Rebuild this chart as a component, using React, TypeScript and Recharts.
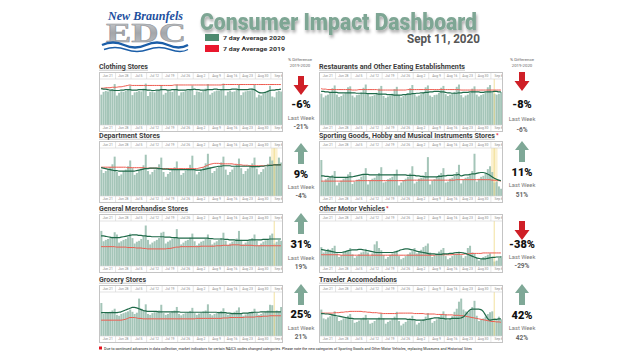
import React from 'react';
import { ComposedChart, Bar, Line, XAxis, YAxis, ReferenceLine, ReferenceArea } from 'recharts';

// week start labels, 82 daily points from Jun 21 to Sep 10
const weekLabels = ['Jun 21', 'Jun 28', 'Jul 5', 'Jul 12', 'Jul 19', 'Jul 26', 'Aug 2', 'Aug 9', 'Aug 16', 'Aug 23', 'Aug 30', 'Sep 6'];
const LABOR_DAY = 78;

// Clothing Stores
const clothingBars = [
  66, 72, 74, 73, 75, 78, 89,
  64, 70, 73, 72, 74, 77, 86,
  65, 71, 72, 74, 73, 79, 90,
  63, 72, 73, 71, 75, 76, 87,
  66, 70, 74, 73, 72, 78, 88,
  64, 71, 72, 74, 75, 77, 86,
  65, 73, 72, 71, 74, 79, 89,
  66, 70, 73, 75, 74, 78, 90,
  64, 72, 74, 72, 73, 77, 87,
  65, 71, 73, 74, 75, 79, 88,
  60, 66, 64, 68, 70, 74, 85,
  62, 60, 72, 74, 73,
];
const clothing2020 = [
  79, 78, 78, 77, 76, 76, 75,
  75, 75, 76, 76, 77, 77, 77,
  76, 76, 76, 77, 77, 77, 77,
  76, 76, 75, 75, 76, 76, 77,
  77, 77, 76, 76, 77, 77, 77,
  76, 76, 76, 76, 77, 77, 77,
  78, 77, 77, 76, 76, 76, 77,
  77, 77, 78, 78, 77, 77, 77,
  77, 77, 77, 78, 78, 78, 77,
  77, 77, 77, 77, 78, 78, 77,
  74, 71, 70, 70, 71, 73, 75,
  76, 76, 77, 77, 78,
];
const clothing2019 = [
  80, 80, 81, 81, 81, 82, 82,
  82, 83, 83, 84, 85, 86, 87,
  86, 86, 86, 86, 86, 86, 86,
  86, 86, 86, 86, 86, 86, 86,
  86, 86, 86, 86, 86, 87, 87,
  87, 87, 87, 87, 87, 87, 87,
  87, 87, 87, 87, 87, 87, 87,
  87, 87, 87, 87, 87, 87, 88,
  88, 88, 88, 88, 88, 88, 88,
  88, 88, 88, 88, 88, 88, 88,
  88, 88, 88, 88, 88, 88, 88,
  88, 88, 88, 88, 88,
];

// Restaurants and Other Eating Establishments
const restaurantBars = [
  68, 60, 64, 66, 70, 80, 86,
  66, 61, 63, 67, 69, 82, 84,
  64, 60, 65, 66, 71, 81, 88,
  67, 62, 63, 65, 70, 79, 85,
  63, 59, 62, 64, 68, 78, 83,
  65, 60, 63, 66, 69, 80, 87,
  66, 62, 64, 67, 71, 82, 86,
  64, 61, 65, 66, 70, 81, 85,
  67, 63, 66, 68, 72, 83, 88,
  65, 60, 64, 66, 70, 79, 84,
  66, 62, 65, 67, 71, 82, 87,
  70, 68, 66, 68, 72,
];
const restaurant2020 = [
  73, 73, 72, 72, 71, 71, 71,
  71, 70, 70, 70, 70, 70, 70,
  70, 70, 69, 69, 69, 69, 69,
  68, 68, 68, 68, 68, 67, 67,
  67, 67, 66, 66, 66, 65, 65,
  65, 65, 66, 66, 67, 67, 68,
  68, 69, 69, 70, 70, 71, 71,
  72, 72, 73, 73, 73, 72, 72,
  71, 70, 70, 69, 69, 69, 70,
  70, 71, 71, 71, 72, 72, 72,
  72, 72, 71, 71, 72, 72, 72,
  72, 73, 73, 72, 72,
];
const restaurant2019 = [
  79, 78, 78, 77, 77, 77, 77,
  77, 77, 77, 77, 77, 77, 77,
  76, 76, 76, 77, 77, 77, 77,
  77, 77, 77, 77, 77, 76, 76,
  76, 76, 76, 76, 76, 76, 76,
  76, 76, 76, 76, 77, 77, 77,
  77, 77, 77, 77, 77, 77, 77,
  77, 77, 77, 77, 77, 77, 77,
  77, 77, 77, 77, 77, 77, 77,
  76, 76, 76, 76, 76, 76, 76,
  76, 76, 76, 76, 76, 76, 76,
  76, 76, 76, 76, 76,
];

// Department Stores
const departmentBars = [
  55, 48, 52, 56, 60, 66, 82,
  50, 42, 45, 52, 55, 62, 74,
  58, 44, 48, 54, 57, 64, 86,
  52, 45, 50, 55, 58, 66, 80,
  50, 40, 46, 50, 56, 60, 72,
  54, 44, 48, 53, 58, 65, 84,
  56, 45, 50, 56, 60, 68, 88,
  60, 48, 52, 58, 62, 70, 82,
  55, 44, 50, 55, 60, 66, 78,
  58, 46, 52, 57, 62, 68, 80,
  57, 45, 50, 56, 60, 67, 82,
  74, 62, 66, 80, 70,
];
const department2020 = [
  59, 58, 57, 56, 55, 54, 53,
  53, 52, 52, 52, 52, 52, 52,
  52, 52, 53, 54, 55, 56, 57,
  57, 58, 58, 58, 58, 57, 57,
  56, 56, 56, 55, 55, 55, 55,
  55, 55, 55, 55, 55, 55, 55,
  55, 54, 54, 54, 55, 56, 57,
  58, 59, 60, 61, 62, 62, 63,
  63, 63, 63, 62, 62, 62, 62,
  62, 62, 62, 62, 62, 61, 61,
  61, 61, 62, 62, 63, 63, 64,
  64, 65, 65, 65, 65,
];
const department2019 = [
  60, 60, 60, 60, 60, 60, 60,
  60, 60, 60, 60, 60, 59, 59,
  59, 59, 59, 59, 59, 59, 58,
  58, 58, 58, 58, 58, 58, 57,
  57, 57, 57, 57, 57, 57, 57,
  57, 57, 57, 57, 57, 57, 57,
  57, 57, 58, 59, 60, 62, 64,
  66, 67, 68, 68, 68, 67, 67,
  67, 67, 67, 67, 66, 66, 65,
  65, 64, 64, 64, 63, 63, 63,
  63, 63, 63, 63, 63, 64, 64,
  64, 65, 65, 65, 65,
];

// Sporting Goods, Hobby and Musical Instruments Stores
const sportingBars = [
  75, 30, 35, 38, 40, 44, 52,
  22, 28, 32, 36, 38, 45, 50,
  25, 30, 34, 35, 40, 46, 58,
  24, 32, 36, 38, 42, 48, 60,
  28, 30, 35, 37, 40, 46, 55,
  22, 28, 33, 36, 40, 47, 62,
  26, 30, 36, 38, 42, 50, 81,
  24, 32, 35, 40, 44, 48, 58,
  28, 30, 36, 38, 42, 50, 65,
  26, 34, 38, 40, 45, 52, 88,
  30, 36, 40, 42, 48, 56, 62,
  50, 28, 30, 20, 15,
];
const sporting2020 = [
  42, 42, 41, 41, 40, 40, 39,
  39, 39, 39, 39, 39, 39, 40,
  40, 41, 42, 43, 44, 45, 45,
  45, 44, 44, 44, 44, 44, 44,
  44, 44, 44, 44, 44, 44, 44,
  44, 44, 44, 44, 43, 43, 43,
  43, 42, 42, 41, 41, 40, 40,
  40, 40, 40, 40, 41, 41, 42,
  42, 43, 43, 43, 44, 44, 45,
  42, 43, 44, 44, 45, 46, 46,
  47, 48, 49, 49, 48, 46, 43,
  40, 37, 35, 33, 32,
];
const sporting2019 = [
  31, 31, 31, 31, 31, 31, 31,
  31, 31, 31, 31, 31, 31, 31,
  31, 31, 32, 32, 32, 32, 32,
  32, 32, 32, 32, 32, 32, 32,
  32, 32, 32, 32, 32, 32, 32,
  32, 32, 32, 32, 33, 33, 33,
  33, 33, 33, 33, 33, 33, 33,
  33, 33, 33, 33, 33, 33, 33,
  33, 33, 33, 33, 33, 34, 34,
  34, 34, 34, 34, 34, 34, 34,
  34, 34, 34, 34, 34, 34, 34,
  33, 33, 32, 32, 31,
];

// General Merchandise Stores
const generalBars = [
  78, 55, 58, 60, 62, 65, 75,
  70, 52, 55, 58, 60, 64, 72,
  62, 50, 54, 56, 60, 66, 90,
  58, 48, 52, 55, 58, 62, 74,
  76, 50, 54, 57, 60, 64, 82,
  60, 48, 52, 56, 58, 63, 72,
  55, 46, 50, 54, 56, 60, 70,
  58, 48, 52, 55, 58, 62, 74,
  56, 47, 50, 54, 56, 61, 78,
  58, 48, 52, 55, 58, 62, 70,
  56, 46, 50, 54, 57, 60, 68,
  72, 50, 54, 58, 56,
];
const general2020 = [
  67, 67, 66, 65, 64, 63, 63,
  63, 63, 64, 65, 66, 67, 68,
  69, 69, 69, 68, 68, 67, 67,
  66, 66, 65, 65, 65, 65, 65,
  65, 64, 64, 64, 63, 63, 63,
  62, 62, 62, 62, 62, 62, 62,
  62, 62, 62, 62, 62, 62, 62,
  61, 61, 60, 60, 60, 60, 60,
  59, 59, 58, 58, 58, 57, 57,
  57, 57, 57, 57, 58, 58, 58,
  58, 58, 58, 59, 59, 59, 60,
  60, 60, 60, 60, 60,
];
const general2019 = [
  43, 43, 43, 43, 43, 43, 43,
  42, 42, 42, 42, 42, 41, 41,
  41, 41, 40, 40, 40, 39, 39,
  38, 38, 38, 38, 38, 38, 38,
  38, 38, 39, 39, 40, 41, 42,
  42, 43, 43, 43, 43, 43, 43,
  43, 43, 43, 44, 44, 44, 44,
  44, 44, 44, 45, 45, 45, 46,
  46, 46, 46, 47, 47, 47, 47,
  46, 46, 46, 46, 46, 46, 45,
  45, 45, 45, 45, 45, 45, 45,
  45, 45, 45, 45, 45,
];

// Other Motor Vehicles
const motorBars = [
  42, 30, 35, 38, 36, 40, 45,
  28, 20, 24, 30, 32, 35, 40,
  26, 18, 22, 26, 30, 32, 38,
  30, 22, 28, 48, 55, 40, 35,
  24, 16, 20, 25, 28, 30, 34,
  22, 15, 18, 22, 26, 30, 33,
  40, 28, 32, 36, 42, 45, 50,
  30, 20, 24, 28, 32, 36, 40,
  22, 15, 18, 22, 26, 28, 32,
  24, 18, 22, 40, 45, 30, 28,
  18, 12, 15, 20, 22, 25, 28,
  20, 10, 12, 18, 22,
];
const motor2020 = [
  37, 36, 35, 34, 33, 32, 31,
  30, 30, 30, 31, 32, 34, 35,
  36, 36, 36, 37, 37, 36, 35,
  34, 33, 32, 31, 30, 30, 30,
  30, 30, 30, 30, 30, 31, 32,
  34, 36, 37, 38, 38, 37, 36,
  35, 33, 32, 31, 30, 29, 28,
  27, 27, 27, 26, 26, 26, 27,
  27, 27, 28, 28, 29, 30, 30,
  30, 29, 28, 26, 24, 22, 20,
  18, 17, 16, 16, 16, 17, 18,
  19, 19, 20, 20, 20,
];
const motor2019 = [
  25, 25, 25, 25, 25, 25, 25,
  25, 25, 24, 24, 24, 24, 24,
  24, 24, 24, 24, 24, 24, 24,
  24, 24, 24, 24, 24, 24, 24,
  24, 24, 24, 24, 24, 24, 24,
  24, 24, 24, 24, 24, 24, 24,
  24, 24, 24, 24, 24, 24, 24,
  24, 24, 24, 25, 25, 25, 25,
  25, 25, 25, 25, 26, 26, 26,
  26, 26, 27, 27, 27, 28, 28,
  28, 28, 28, 29, 29, 29, 29,
  29, 29, 29, 29, 29,
];

// Grocery Stores
const groceryBars = [
  75, 50, 52, 54, 55, 58, 62,
  48, 46, 50, 52, 54, 56, 60,
  55, 50, 53, 85, 62, 58, 72,
  50, 48, 52, 54, 56, 58, 71,
  52, 48, 50, 53, 56, 58, 66,
  50, 47, 50, 52, 54, 57, 64,
  52, 48, 51, 53, 56, 58, 72,
  50, 47, 50, 52, 55, 57, 63,
  51, 48, 50, 53, 55, 58, 65,
  50, 46, 49, 52, 54, 56, 62,
  52, 48, 50, 53, 55, 58, 71,
  70, 54, 58, 56, 66,
];
const grocery2020 = [
  53, 53, 53, 53, 53, 53, 53,
  53, 54, 55, 57, 59, 61, 63,
  65, 65, 64, 62, 60, 58, 57,
  56, 56, 56, 56, 56, 55, 55,
  55, 55, 55, 55, 55, 55, 55,
  55, 54, 54, 54, 54, 54, 54,
  54, 54, 54, 54, 54, 54, 54,
  54, 54, 54, 54, 53, 53, 53,
  53, 52, 52, 51, 51, 51, 51,
  51, 52, 52, 52, 53, 53, 54,
  54, 54, 55, 55, 55, 55, 55,
  55, 55, 55, 55, 55,
];
const grocery2019 = [
  36, 36, 36, 36, 36, 36, 36,
  36, 36, 36, 37, 38, 40, 42,
  42, 42, 41, 40, 40, 39, 39,
  39, 39, 39, 39, 39, 39, 39,
  39, 39, 39, 39, 39, 39, 39,
  39, 39, 39, 39, 39, 39, 39,
  39, 40, 40, 40, 40, 40, 40,
  40, 40, 40, 40, 40, 40, 41,
  41, 41, 42, 42, 42, 42, 42,
  42, 42, 43, 43, 43, 43, 43,
  44, 44, 44, 45, 45, 45, 46,
  46, 46, 46, 46, 46,
];

// Traveler Accomodations
const travelerBars = [
  60, 40, 38, 42, 45, 50, 56,
  44, 34, 36, 40, 42, 46, 50,
  38, 30, 32, 35, 38, 42, 48,
  36, 28, 30, 34, 38, 42, 52,
  40, 28, 32, 35, 38, 44, 55,
  34, 24, 28, 32, 36, 40, 46,
  36, 26, 30, 34, 38, 44, 52,
  40, 30, 34, 38, 42, 48, 56,
  50, 36, 40, 45, 55, 62, 78,
  85, 60, 56, 52, 58, 66, 80,
  46, 34, 38, 40, 44, 50, 54,
  56, 40, 36, 44, 38,
];
const traveler2020 = [
  51, 51, 50, 50, 49, 48, 47,
  46, 45, 44, 43, 42, 41, 40,
  40, 39, 39, 39, 39, 39, 39,
  39, 39, 39, 39, 39, 39, 39,
  39, 39, 39, 39, 39, 39, 39,
  39, 39, 39, 39, 38, 38, 37,
  37, 36, 36, 36, 36, 37, 38,
  39, 40, 41, 41, 41, 40, 40,
  39, 39, 39, 40, 40, 40, 40,
  41, 43, 48, 54, 59, 61, 61,
  61, 61, 60, 56, 48, 40, 36,
  37, 38, 38, 39, 39,
];
const traveler2019 = [
  52, 52, 52, 52, 52, 52, 53,
  53, 53, 54, 54, 55, 55, 56,
  56, 56, 56, 56, 56, 55, 55,
  54, 54, 53, 53, 53, 52, 52,
  51, 51, 51, 51, 51, 51, 51,
  52, 52, 52, 52, 52, 52, 52,
  51, 51, 51, 51, 51, 50, 50,
  50, 50, 50, 49, 49, 49, 49,
  48, 48, 48, 48, 47, 47, 47,
  46, 46, 45, 44, 43, 42, 41,
  40, 39, 38, 37, 36, 35, 34,
  33, 33, 32, 32, 31,
];

const titles = [
  'Clothing Stores', 'Restaurants and Other Eating Establishments',
  'Department Stores', 'Sporting Goods, Hobby and Musical Instruments Stores',
  'General Merchandise Stores', 'Other Motor Vehicles',
  'Grocery Stores', 'Traveler Accomodations',
];
const diffs = ['-6%', '-8%', '9%', '11%', '31%', '-38%', '25%', '42%'];
const lastWeek = ['-21%', '-6%', '-4%', '51%', '19%', '-29%', '21%', '42%'];

const series = [
  [clothingBars, clothing2020, clothing2019],
  [restaurantBars, restaurant2020, restaurant2019],
  [departmentBars, department2020, department2019],
  [sportingBars, sporting2020, sporting2019],
  [generalBars, general2020, general2019],
  [motorBars, motor2020, motor2019],
  [groceryBars, grocery2020, grocery2019],
  [travelerBars, traveler2020, traveler2019],
];

// layout
const colX = [99, 319];
const rowTop = [72, 141, 214, 285];
const rowH = [60, 62, 59, 58];
const titleW = [49, 146, 61, 176, 89, 66, 47, 78];
const starred = [false, false, false, true, false, true, false, false];
const bands = [false, false, true, true, false, false, false, false];
const ind = [
  // cx, arrowTop, pct, lw label, lw value
  [301, 76, 108, 120, 129],
  [522, 72, 108, 121, 132],
  [301, 143, 178, 189, 198],
  [522, 141, 176, 187, 197],
  [301, 213, 248, 260, 269],
  [522, 221, 248, 259, 268],
  [301, 284, 318, 330, 339],
  [522, 284, 319, 330, 340],
];

const BAR = '#a4c5b8';
const GREEN = '#1f6a49';
const RED = '#ee5b4f';

function Panel({ i }: { i: number }) {
  const col = i % 2;
  const row = Math.floor(i / 2);
  const w = 184;
  const h = rowH[row];
  const cw = w - 2;
  const ch = h - 2;
  const [bars, a20, a19] = series[i];
  const bw = cw / bars.length;
  const data = bars.map((v, d) => ({ d, v, g: a20[d], r: a19[d] }));

  const tick = (top: boolean) => (props: any) => {
    const { x, payload } = props;
    const d = payload.value as number;
    return (
      <g>
        {d % 7 === 0 && d > 0 && (
          <line x1={x - bw / 2} x2={x - bw / 2} y1={top ? 0 : ch - 6} y2={top ? 6 : ch} stroke="#d4d4d4" strokeWidth={0.6} />
        )}
        {d % 7 === 3 && (
          <text x={x} y={top ? 4.4 : ch - 1.6} textAnchor="middle" fontSize={3.4} fill="#8c8c8c" fontFamily="Roboto">
            {weekLabels[(d - 3) / 7]}
          </text>
        )}
      </g>
    );
  };

  return (
    <div style={{ position: 'absolute', left: colX[col], top: rowTop[row], width: w, height: h, border: '1px solid #c4c4c4', boxSizing: 'border-box', background: '#fff' }}>
      <ComposedChart width={cw} height={ch} data={data} margin={{ top: 0, right: 0, bottom: 0, left: 0 }} barCategoryGap="16%">
        <XAxis xAxisId="t" dataKey="d" orientation="top" height={6} interval={0} tickLine={false} axisLine={{ stroke: '#d0d0d0', strokeWidth: 0.6 }} tick={tick(true)} />
        <XAxis xAxisId="b" dataKey="d" height={6} interval={0} tickLine={false} axisLine={{ stroke: '#d0d0d0', strokeWidth: 0.6 }} tick={tick(false)} />
        <YAxis hide domain={[0, 100]} />
        {bands[i] && <ReferenceArea xAxisId="b" x1={LABOR_DAY - 1} x2={LABOR_DAY + 1} fill="#fbf1cf" fillOpacity={1} strokeOpacity={0} />}
        <Bar xAxisId="b" dataKey="v" fill={BAR} isAnimationActive={false} />
        {i > 0 && <ReferenceLine xAxisId="b" x={LABOR_DAY} stroke="#efd987" strokeWidth={0.8} />}
        <Line xAxisId="b" dataKey="r" type="monotone" stroke={RED} strokeWidth={1} dot={false} isAnimationActive={false} />
        <Line xAxisId="b" dataKey="g" type="monotone" stroke={GREEN} strokeWidth={1.2} dot={false} isAnimationActive={false} />
      </ComposedChart>
    </div>
  );
}

function Arrow({ cx, y, up }: { cx: number; y: number; up: boolean }) {
  const pts = up
    ? [[cx, y], [cx + 7, y + 9], [cx + 3, y + 9], [cx + 3, y + 21], [cx - 3, y + 21], [cx - 3, y + 9], [cx - 7, y + 9]]
    : [[cx - 3, y], [cx + 3, y], [cx + 3, y + 9], [cx + 7.5, y + 9], [cx, y + 19], [cx - 7.5, y + 9], [cx - 3, y + 9]];
  return <polygon points={pts.map((p) => p.join(',')).join(' ')} fill={up ? '#7fa897' : '#cf1f27'} />;
}

export default function App() {
  return (
    <div style={{ position: 'fixed', left: 0, top: 0, width: 640, height: 360, background: '#fff', overflow: 'hidden', fontFamily: 'Roboto, sans-serif' }}>
      {titles.map((_, i) => <Panel key={i} i={i} />)}
      <svg width={640} height={360} style={{ position: 'absolute', left: 0, top: 0, pointerEvents: 'none' }}>
        <defs>
          <filter id="sh" x="-10%" y="-30%" width="120%" height="180%">
            <feDropShadow dx="1" dy="2.5" stdDeviation="1.6" floodColor="#000" floodOpacity="0.35" />
          </filter>
          <linearGradient id="edc" x1="0" y1="0" x2="0" y2="1">
            <stop offset="0" stopColor="#d2d4d7" />
            <stop offset="0.5" stopColor="#a3a6aa" />
            <stop offset="1" stopColor="#c3c5c8" />
          </linearGradient>
        </defs>

        {/* logo */}
        <text x={108} y={19.5} fontFamily="Liberation Serif" fontStyle="italic" fontWeight={700} fontSize={11.5} fill="#1d4f9e" textLength={75} lengthAdjust="spacingAndGlyphs">New Braunfels</text>
        <text x={106} y={42} fontFamily="Liberation Serif" fontWeight={700} fontSize={27} fill="url(#edc)" stroke="#8d9094" strokeWidth={0.5} textLength={80} lengthAdjust="spacingAndGlyphs">EDC</text>
        <path d="M102 45 q 11 -5 22 0 t 22 0 t 22 0 t 20 0" fill="none" stroke="#1b5ea8" strokeWidth={2.4} />
        <path d="M104 49.5 q 11 -4 22 0 t 22 0 t 22 0 t 18 0" fill="none" stroke="#1b5ea8" strokeWidth={1.4} />

        {/* header */}
        <text x={200} y={29.5} fontFamily="Roboto" fontWeight={900} fontSize={24.5} fill="#7ea694" filter="url(#sh)" textLength={277} lengthAdjust="spacingAndGlyphs">Consumer Impact Dashboard</text>
        <text x={407} y={43} fontFamily="Roboto" fontWeight={700} fontSize={12} fill="#565656" textLength={73} lengthAdjust="spacingAndGlyphs">Sept 11, 2020</text>
        <rect x={205} y={34} width={14} height={7} fill="#4e8a6f" />
        <rect x={205} y={45} width={14} height={7} fill="#e9172d" />
        <text x={223} y={40} fontFamily="Roboto" fontWeight={700} fontSize={5.5} fill="#333" textLength={62} lengthAdjust="spacingAndGlyphs">7 day Average 2020</text>
        <text x={223} y={51} fontFamily="Roboto" fontWeight={700} fontSize={5.5} fill="#333" textLength={62} lengthAdjust="spacingAndGlyphs">7 day Average 2019</text>

        {[300, 522].map((cx) => (
          <g key={cx}>
            <text x={cx} y={61} textAnchor="middle" fontFamily="Roboto" fontSize={4.3} fill="#666">% Difference</text>
            <text x={cx} y={67} textAnchor="middle" fontFamily="Roboto" fontSize={4.3} fill="#666">2019-2020</text>
          </g>
        ))}

        {/* panel titles */}
        {titles.map((t, i) => {
          const x = colX[i % 2];
          const y = rowTop[Math.floor(i / 2)] - 3;
          return (
            <g key={t}>
              <text x={x} y={y} fontFamily="Roboto" fontWeight={700} fontSize={7} fill="#3c3c3c" textLength={titleW[i]} lengthAdjust="spacingAndGlyphs">{t}</text>
              <line x1={x} x2={x + titleW[i]} y1={y + 1.2} y2={y + 1.2} stroke="#777" strokeWidth={0.4} />
              {starred[i] && <text x={x + titleW[i] + 1} y={y - 1} fontFamily="Roboto" fontWeight={700} fontSize={6} fill="#e3141f">*</text>}
            </g>
          );
        })}

        {/* % difference indicators */}
        {ind.map(([cx, at, py, ly, vy], i) => {
          const up = !diffs[i].startsWith('-');
          return (
            <g key={i}>
              <Arrow cx={cx} y={at} up={up} />
              <text x={cx} y={py} textAnchor="middle" fontFamily="Roboto" fontWeight={900} fontSize={11} fill="#111">{diffs[i]}</text>
              <text x={cx} y={ly} textAnchor="middle" fontFamily="Roboto" fontSize={5.8} fill="#7a7a7a">Last Week</text>
              <text x={cx} y={vy} textAnchor="middle" fontFamily="Roboto" fontWeight={700} fontSize={6.5} fill="#666">{lastWeek[i]}</text>
            </g>
          );
        })}

        {/* footnote */}
        <rect x={99} y={346.5} width={3} height={3} fill="#e3141f" />
        <text x={104} y={349.5} fontFamily="Roboto" fontSize={3.8} fill="#222" textLength={368} lengthAdjust="spacingAndGlyphs">
          Due to continued advances in data collection, market indicators for certain NAICS codes changed categories. Please note the new categories of Sporting Goods and Other Motor Vehicles, replacing Museums and Historical Sites
        </text>
      </svg>
    </div>
  );
}
